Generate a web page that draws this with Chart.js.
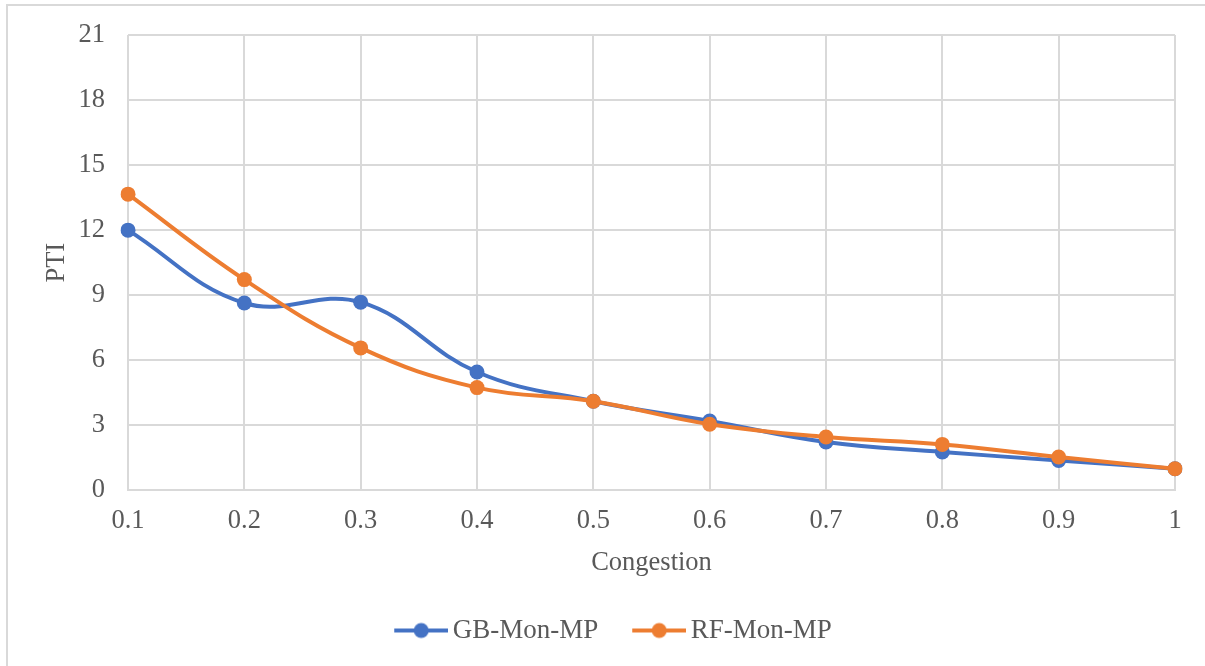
<!DOCTYPE html>
<html>
<head>
<meta charset="utf-8">
<script src="https://cdn.jsdelivr.net/npm/chart.js@4.4.1/dist/chart.umd.min.js"></script>
<style>
  html, body { margin: 0; padding: 0; background: #fff; }
  #wrap { position: relative; width: 1205px; height: 666px; overflow: hidden; }
  #wrap canvas { position: absolute; left: 0; top: 0; }
  #frame {
    position: absolute; left: 6px; top: 4px; width: 1300px; height: 800px;
    border: 2px solid #d9d9d9; box-sizing: border-box; pointer-events: none;
  }
</style>
</head>
<body>
<div id="wrap">
  <canvas id="pti" width="1205" height="666"></canvas>
  <div id="frame"></div>
</div>
<script>
// data
const congestion = ["0.1", "0.2", "0.3", "0.4", "0.5", "0.6", "0.7", "0.8", "0.9", "1"];
const gbMonMP = [12.0, 8.64, 8.68, 5.46, 4.11, 3.2, 2.23, 1.77, 1.38, 1.0];
const rfMonMP = [13.66, 9.72, 6.57, 4.74, 4.11, 3.05, 2.46, 2.12, 1.54, 1.0];
const yTicks = [0, 3, 6, 9, 12, 15, 18, 21];

const BLUE = "#4472c4";
const ORANGE = "#ed7d31";
const TEXT = "#595959";
const GRID = "#d9d9d9";
const FONT = "'Liberation Serif', 'Times New Roman', serif";

// line + dot swatch like the office legend, drawn on the right part of a wider canvas
function legendSwatch(color) {
  const c = document.createElement("canvas");
  c.width = 70;
  c.height = 18;
  const g = c.getContext("2d");
  g.strokeStyle = color;
  g.lineWidth = 4;
  g.beginPath();
  g.moveTo(16, 9);
  g.lineTo(70, 9);
  g.stroke();
  g.fillStyle = color;
  g.beginPath();
  g.arc(43, 9, 7.5, 0, Math.PI * 2);
  g.fill();
  return c;
}

// nudge the legend row to the right, where the reference has it
const legendShift = {
  id: "legendShift",
  afterLayout: (chart) => {
    if (chart.legend) {
      chart.legend.left += 22;
      chart.legend.right += 22;
    }
  }
};

const series = [
  { label: "GB-Mon-MP", data: gbMonMP, color: BLUE, order: 1 },
  { label: "RF-Mon-MP", data: rfMonMP, color: ORANGE, order: 0 }
];

new Chart(document.getElementById("pti").getContext("2d"), {
  type: "line",
  data: {
    labels: congestion,
    datasets: series.map((s) => ({
      label: s.label,
      data: s.data,
      order: s.order,
      borderColor: s.color,
      backgroundColor: s.color,
      pointBackgroundColor: s.color,
      pointBorderColor: s.color,
      borderWidth: 4,
      pointRadius: 7.5,
      pointBorderWidth: 0,
      tension: 0.4,
      fill: false
    }))
  },
  plugins: [legendShift],
  options: {
    responsive: false,
    animation: false,
    layout: { padding: { left: 0, top: 35, right: 30, bottom: 12 } },
    scales: {
      x: {
        type: "category",
        offset: false,
        ticks: {
          color: TEXT,
          padding: 15,
          maxRotation: 0,
          autoSkip: false,
          font: { family: FONT, size: 26.5 }
        },
        grid: { color: GRID, lineWidth: 2, drawTicks: false },
        border: { color: GRID, width: 2 },
        title: {
          display: true,
          text: "Congestion",
          color: TEXT,
          padding: { top: -5, bottom: 11 },
          font: { family: FONT, size: 26.5 }
        }
      },
      y: {
        min: 0,
        max: 21,
        afterBuildTicks: (scale) => {
          scale.ticks = yTicks.map((v) => ({ value: v }));
        },
        afterFit: (scale) => {
          scale.width = 128;
          scale.paddingTop = 0;
          scale.paddingBottom = 0;
        },
        ticks: {
          color: TEXT,
          padding: 23,
          font: { family: FONT, size: 26.5 }
        },
        grid: { color: GRID, lineWidth: 2, drawTicks: false },
        border: { display: false },
        title: {
          display: true,
          text: "PTI",
          color: TEXT,
          padding: { top: 41, bottom: 0 },
          font: { family: FONT, size: 26.5 }
        }
      }
    },
    plugins: {
      legend: {
        position: "bottom",
        labels: {
          color: TEXT,
          font: { family: FONT, size: 27 },
          usePointStyle: true,
          pointStyleWidth: 52,
          padding: 27,
          generateLabels: (chart) => chart.data.datasets.map((ds, i) => ({
            text: ds.label,
            fontColor: TEXT,
            pointStyle: legendSwatch(ds.borderColor),
            datasetIndex: i,
            hidden: false,
            lineWidth: 0,
            strokeStyle: "transparent",
            fillStyle: ds.borderColor
          }))
        }
      },
      tooltip: { enabled: false }
    }
  }
});
</script>
</body>
</html>
